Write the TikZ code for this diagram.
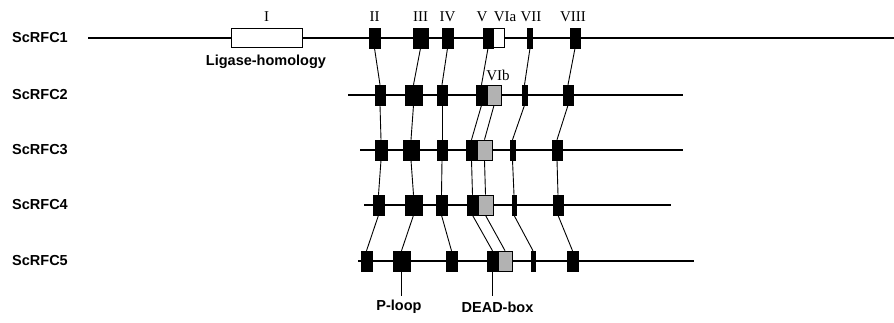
\documentclass[tikz,border=0pt]{standalone}
\usepackage{fontspec}
\setmainfont{Liberation Serif}
\setsansfont{Liberation Sans}
\begin{document}
\begin{tikzpicture}[x=1pt,y=-1pt,
  mainline/.style={line width=2.8pt},
  conn/.style={line width=0.9pt},
  bbox/.style={draw,fill=black,inner sep=0pt,minimum height=20pt,line width=0.5pt},
  gbox/.style={draw,fill=black!30,inner sep=0pt,minimum height=20pt,line width=0.7pt},
  wbox/.style={draw,fill=white,inner sep=0pt,minimum height=19pt,line width=0.8pt},
  rowlab/.style={anchor=west,font=\sffamily\bfseries\fontsize{14.5}{16}\selectfont,inner sep=0pt},
  numlab/.style={font=\fontsize{15}{17}\selectfont,inner sep=0pt},
  annot/.style={font=\sffamily\bfseries\fontsize{14.5}{16}\selectfont,inner sep=0pt}]
\useasboundingbox (0,0) rectangle (894,322);
\newcommand{\blk}[5][bbox]{\node[#1,minimum width=#5pt] (#2) at (#3,#4) {};}
% row labels
\node[rowlab] (l1) at (12,38) {ScRFC1};
\node[rowlab] (l2) at (12,95) {ScRFC2};
\node[rowlab] (l3) at (12,150) {ScRFC3};
\node[rowlab] (l4) at (12,205) {ScRFC4};
\node[rowlab] (l5) at (12,261) {ScRFC5};
% main lines
\coordinate (s1) at (88,38); \coordinate (e1) at (894,38);
\coordinate (s2) at (348,95); \coordinate (e2) at (683,95);
\coordinate (s3) at (360,150); \coordinate (e3) at (683,150);
\coordinate (s4) at (364,205); \coordinate (e4) at (671,205);
\coordinate (s5) at (358,261); \coordinate (e5) at (694,261);
\draw[mainline] (s1) -- (e1);
\draw[mainline] (s2) -- (e2);
\draw[mainline] (s3) -- (e3);
\draw[mainline] (s4) -- (e4);
\draw[mainline] (s5) -- (e5);
% row 1
\node[wbox,minimum width=71pt] (r1I) at (266.5,38) {};
\blk{r1II}{374.5}{38}{11}
\blk{r1III}{420.5}{38}{15}
\blk{r1IV}{447.5}{38}{11}
\blk{r1V}{488}{38}{10}
\blk[wbox]{r1VI}{498.5}{38}{11}
\blk{r1VII}{530}{38}{5}
\blk{r1VIII}{575}{38}{10}
% row 2
\blk{r2II}{380}{95}{10}
\blk{r2III}{413.5}{95}{17}
\blk{r2IV}{442}{95}{10}
\blk{r2V}{481.5}{95}{11}
\blk[gbox]{r2VI}{494}{95}{14}
\blk{r2VII}{524.5}{95}{5}
\blk{r2VIII}{568}{95}{10}
% row 3
\blk{r3II}{381}{150}{12}
\blk{r3III}{411}{150}{16}
\blk{r3IV}{442}{150}{10}
\blk{r3V}{471.5}{150}{11}
\blk[gbox]{r3VI}{484.5}{150}{15}
\blk{r3VII}{512.5}{150}{5}
\blk{r3VIII}{557}{150}{10}
% row 4
\blk{r4II}{378.5}{205}{11}
\blk{r4III}{413.5}{205}{17}
\blk{r4IV}{441.5}{205}{11}
\blk{r4V}{472.5}{205}{11}
\blk[gbox]{r4VI}{485.5}{205}{15}
\blk{r4VII}{514}{205}{4}
\blk{r4VIII}{558}{205}{10}
% row 5
\blk{r5II}{366.5}{261}{11}
\blk{r5III}{401.5}{261}{17}
\blk{r5IV}{451.5}{261}{11}
\blk{r5V}{492.5}{261}{11}
\blk[gbox]{r5VI}{505}{261}{14}
\blk{r5VII}{533}{261}{4}
\blk{r5VIII}{572.5}{261}{11}
% motif labels
\node[numlab] (tI) at (266.5,17) {I};
\node[numlab] (tII) at (374.5,17) {II};
\node[numlab] (tIII) at (420.5,17) {III};
\node[numlab] (tIV) at (447.5,17) {IV};
\node[numlab] (tV) at (482,17) {V};
\node[numlab] (tVIa) at (505,17) {VIa};
\node[numlab] (tVII) at (531,17) {VII};
\node[numlab] (tVIII) at (573,17) {VIII};
\node[numlab] (tVIb) at (498,75) {VIb};
\node[annot] (lig) at (266,62) {Ligase-homology};
% connectors
\foreach \m in {II,III,IV,V,VII,VIII} {
  \draw[conn] (r1\m.south) -- (r2\m.north);
}
\foreach \a/\b in {2/3,3/4,4/5} {
  \foreach \m in {II,III,IV,V,VI,VII,VIII} {
    \draw[conn] (r\a\m.south) -- (r\b\m.north);
  }
}
% annotations
\node[annot] (ploop) at (399,307) {P-loop};
\node[annot] (dead) at (497.5,307) {DEAD-box};
\coordinate (pe) at (401.5,296);
\coordinate (de) at (492.5,296);
\draw[conn] (r5III.south) -- (pe);
\draw[conn] (r5V.south) -- (de);
\end{tikzpicture}
\end{document}
